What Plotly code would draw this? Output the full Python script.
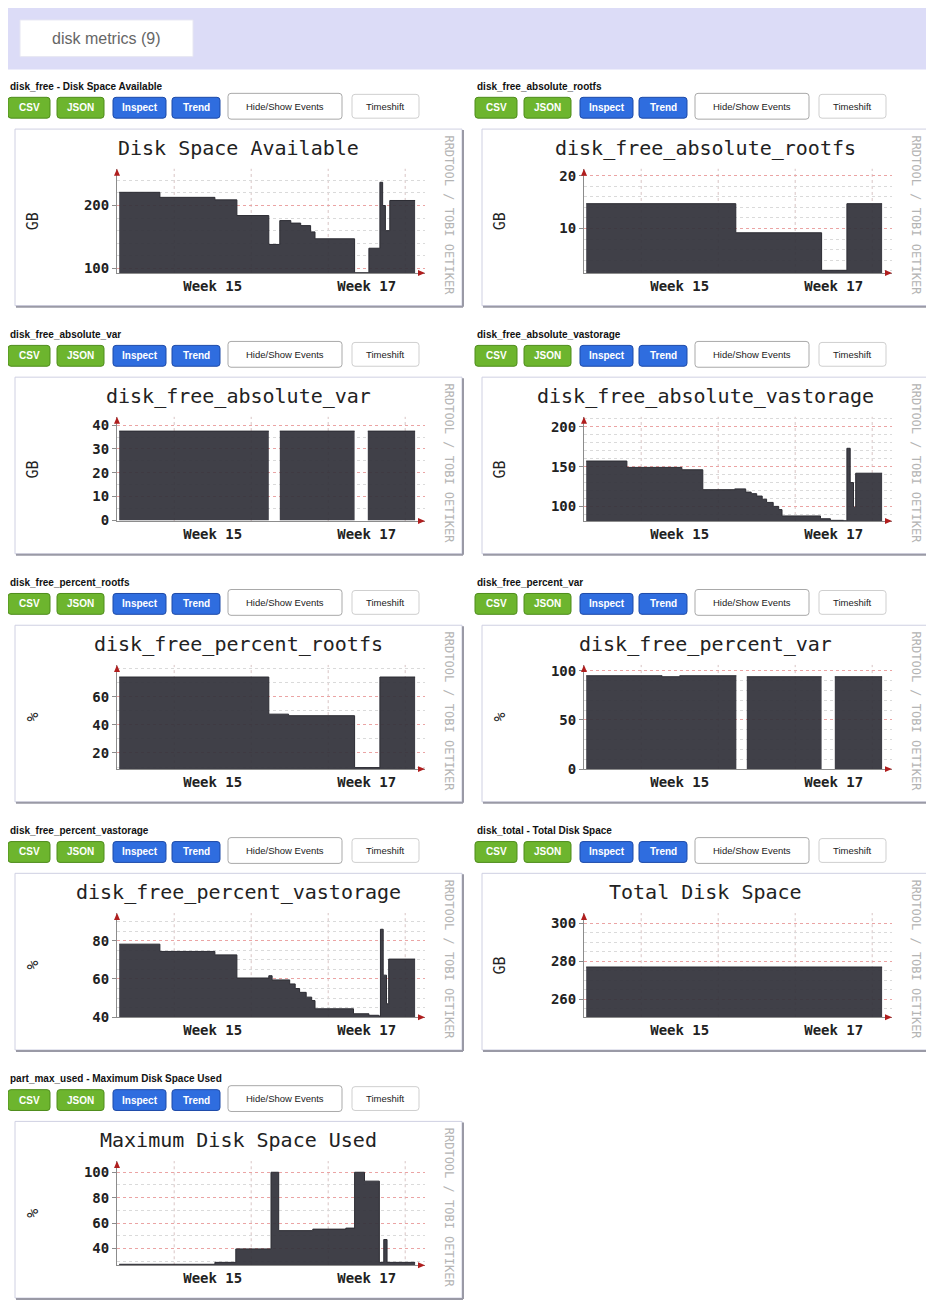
import plotly.graph_objects as go

# reference size; the page body adds an 8px margin, so the figure is drawn 8px smaller
W, H = 934, 1310
OFF = 8
FW, FH = W - OFF, H - OFF

# --- data: day offset inside the 4-week window, value at that step (None = no data) ---
free_days = [0, 3.7, 8.7, 10.7, 13.6, 14.6, 15.6, 16.5, 17.4, 17.8, 21.4, 22.7, 23.7, 23.95, 24.2, 24.6, 26.9]
free_gb = [221, 213, 209, 184, 138, 176, 172, 168, 158, 147, 93, 132, 237, 200, 160, 208, 208]

rootfs_days = [0, 13.6, 21.4, 23.7, 26.9]
rootfs_gb = [14.7, 9.2, 2.1, 14.7, 14.7]

var_days = [0, 13.6, 13.65, 14.6, 21.4, 21.45, 22.6, 26.9]
var_gb = [37.5, 37.5, None, 37.5, 37.5, None, 37.5, 37.5]

vast_days = [0, 3.7, 8.7, 10.6, 13.5, 14.5, 15.0, 15.5, 16.0, 16.4, 17.0, 17.5, 17.8,
             21.3, 22.2, 23.4, 23.7, 24.0, 24.3, 24.5, 26.9]
vast_gb = [157, 149, 146, 121, 122, 118, 116, 113, 109, 105, 100, 96, 88,
           84.5, 82.5, 82, 173, 130, 99, 141.7, 141.7]

pct_root_days = [0, 13.6, 15.4, 21.4, 23.7, 26.9]
pct_root = [74, 47.6, 46.5, 9.6, 74, 74]

pct_var_days = [0, 6.9, 8.5, 13.65, 13.7, 14.6, 21.4, 21.45, 22.6, 26.9]
pct_var = [95, 94, 95, 95, None, 94, 94, None, 94, 94]

pct_vast_days = [0, 3.7, 8.7, 10.7, 13.6, 13.9, 15.5, 16.0, 16.4, 17.0, 17.5, 17.8,
                 21.3, 22.7, 23.6, 23.75, 24.0, 24.3, 24.5, 26.9]
pct_vast = [78.2, 74.4, 72.6, 60.5, 61.7, 59.5, 57.4, 55, 53, 50.5, 48.7, 44.4,
            41.8, 41, 40.6, 86, 62, 47, 70.4, 70.4]

total_days = [0, 26.9]
total_gb = [277, 277]

max_used_days = [0, 8.7, 10.6, 13.8, 14.5, 17.6, 20.6, 21.4, 22.3, 23.65, 24.05, 24.35, 26.9]
max_used = [27.5, 29, 39.6, 100, 54, 55.2, 56, 100, 93, 29, 47, 29, 29]

series = [(free_days, free_gb), (rootfs_days, rootfs_gb), (var_days, var_gb),
          (vast_days, vast_gb), (pct_root_days, pct_root), (pct_var_days, pct_var),
          (pct_vast_days, pct_vast), (total_days, total_gb), (max_used_days, max_used)]

labels = ["disk_free - Disk Space Available", "disk_free_absolute_rootfs", "disk_free_absolute_var",
          "disk_free_absolute_vastorage", "disk_free_percent_rootfs", "disk_free_percent_var",
          "disk_free_percent_vastorage", "disk_total - Total Disk Space",
          "part_max_used - Maximum Disk Space Used"]
titles = ["Disk Space Available", "disk_free_absolute_rootfs", "disk_free_absolute_var",
          "disk_free_absolute_vastorage", "disk_free_percent_rootfs", "disk_free_percent_var",
          "disk_free_percent_vastorage", "Total Disk Space", "Maximum Disk Space Used"]
units = ["GB", "GB", "GB", "GB", "%", "%", "%", "GB", "%"]

y_ranges = [[92.6, 258.5], [1.6, 21.3], [-0.3, 43.5], [81.6, 212.5], [8.5, 82.6],
            [0, 106], [40, 94.5], [250.6, 305.4], [26.7, 108.8]]
y_ticks = [[100, 200], [10, 20], [0, 10, 20, 30, 40], [100, 150, 200], [20, 40, 60],
           [0, 50, 100], [40, 60, 80], [260, 280, 300], [40, 60, 80, 100]]
y_minor = [20, 2, 5, 10, 10, 10, 5, 5, 10]

week_labels = ["Week 15", "Week 17"]
week_label_days = [8.5, 22.5]
week_grid_days = [5, 12, 19, 26]

buttons = ["CSV", "JSON", "Inspect", "Trend", "Hide/Show Events", "Timeshift"]


def fx(x):
    return (x - OFF) / FW


def fy(y):
    return 1 - (y - OFF) / FH


def split_gaps(days, vals):
    """Split a series at None so every block of data gets its own filled area."""
    parts, cur = [], ([], [])
    for d, v in zip(days, vals):
        if v is None:
            if cur[0]:
                parts.append(cur)
            cur = ([], [])
        else:
            cur[0].append(d)
            cur[1].append(v)
    if cur[0]:
        parts.append(cur)
    return parts


def rounded_rect(x0, y0, x1, y1, r=3):
    """SVG path (paper coords) of a rounded box given in pixels."""
    return (f"M {fx(x0 + r)},{fy(y0)} L {fx(x1 - r)},{fy(y0)} Q {fx(x1)},{fy(y0)} {fx(x1)},{fy(y0 + r)} "
            f"L {fx(x1)},{fy(y1 - r)} Q {fx(x1)},{fy(y1)} {fx(x1 - r)},{fy(y1)} "
            f"L {fx(x0 + r)},{fy(y1)} Q {fx(x0)},{fy(y1)} {fx(x0)},{fy(y1 - r)} "
            f"L {fx(x0)},{fy(y0 + r)} Q {fx(x0)},{fy(y0)} {fx(x0 + r)},{fy(y0)} Z")


def paper_rect(x0, y0, x1, y1, **kw):
    return dict(type="rect", xref="paper", yref="paper",
                x0=fx(x0), x1=fx(x1), y0=fy(y1), y1=fy(y0), **kw)


def paper_line(x0, y0, x1, y1, color, width=1):
    return dict(type="line", xref="paper", yref="paper", x0=fx(x0), x1=fx(x1),
                y0=fy(y0), y1=fy(y1), line=dict(color=color, width=width))


def text(x, y, s, size, color="#222", family="Liberation Sans", xanchor="center", weight="normal", **kw):
    return dict(x=fx(x), y=fy(y), xref="paper", yref="paper", text=s, showarrow=False,
                xanchor=xanchor, yanchor="middle",
                font=dict(size=size, color=color, family=family, weight=weight), **kw)


# button geometry: (x0, x1, y0, y1, fill, border, text colour)
btn_style = [
    (8, 50, 96, 117, "#6db52e", "#4e8c1b", "white"),
    (57, 104, 96, 117, "#6db52e", "#4e8c1b", "white"),
    (113, 166, 96, 117, "#2f6ddf", "#1d4aa8", "white"),
    (172, 220, 96, 117, "#2f6ddf", "#1d4aa8", "white"),
    (228, 342, 92, 118, "#ffffff", "#a9a9a9", "#222"),
    (352, 419, 93, 117, "#ffffff", "#cfcfcf", "#222"),
]

fig = go.Figure()
shapes = []
annotations = []

# header band
shapes.append(paper_rect(5, 5, 929, 68, fillcolor="#dcdcf7", line=dict(width=0), layer="below"))
shapes.append(paper_rect(20, 18, 193, 55, fillcolor="white", line=dict(color="#e6e6f2", width=1), layer="below"))
annotations.append(text(106, 37, "disk metrics (9)", 16, color="#666"))

for i in range(9):
    col, row = i % 2, i // 2
    ox, oy = 467 * col, 250 * row
    k = "" if i == 0 else str(i + 1)

    # label + buttons
    annotations.append(text(ox + 8, oy + 85, labels[i], 10, color="#111", xanchor="left", weight="bold"))
    for name, (x0, x1, y0, y1, fill, border, tc) in zip(buttons, btn_style):
        shapes.append(dict(type="path", xref="paper", yref="paper",
                           path=rounded_rect(ox + x0, oy + y0, ox + x1, oy + y1),
                           fillcolor=fill, line=dict(color=border, width=1), layer="below"))
        annotations.append(text(ox + (x0 + x1) / 2, oy + (y0 + y1) / 2, name,
                                10 if tc == "white" else 9.5, color=tc,
                                weight="bold" if tc == "white" else "normal"))

    # graph frame with shadow
    shapes.append(paper_rect(ox + 15, oy + 128, ox + 462, oy + 306, fillcolor="white",
                             line=dict(color="#cfd0e2", width=1), layer="below"))
    shapes.append(paper_line(ox + 463, oy + 129, ox + 463, oy + 307, "#9a9aa6", 2))
    shapes.append(paper_line(ox + 16, oy + 307, ox + 463, oy + 307, "#9a9aa6", 2))

    # texts inside frame
    annotations.append(text(ox + 238, oy + 147, titles[i], 20, family="DejaVu Sans Mono"))
    annotations.append(text(ox + 33, oy + 221, units[i], 15, family="DejaVu Sans Mono", textangle=-90))
    annotations.append(text(ox + 449, oy + 215, "RRDTOOL / TOBI OETIKER", 12, color="#b4b4b4",
                            family="DejaVu Sans Mono", textangle=90))

    # axis arrow heads
    ax_x, ax_y, top_y, right_x = ox + 117, oy + 273, oy + 168, ox + 425
    shapes.append(dict(type="path", xref="paper", yref="paper", fillcolor="#b01e1e", line=dict(width=0),
                       path=f"M {fx(right_x)},{fy(ax_y)} L {fx(right_x - 7)},{fy(ax_y - 3)} "
                            f"L {fx(right_x - 7)},{fy(ax_y + 3)} Z"))
    shapes.append(dict(type="path", xref="paper", yref="paper", fillcolor="#b01e1e", line=dict(width=0),
                       path=f"M {fx(ax_x)},{fy(top_y)} L {fx(ax_x - 3)},{fy(top_y + 7)} "
                            f"L {fx(ax_x + 3)},{fy(top_y + 7)} Z"))

    # weekly vertical grid
    for d in week_grid_days:
        shapes.append(dict(type="line", xref="x" + k, yref=f"y{k} domain", x0=d, x1=d, y0=0, y1=1,
                           line=dict(color="#d8c4c4", width=1, dash="dot"), layer="below"))

    days, vals = series[i]
    for seg_days, seg_vals in split_gaps(days, vals):
        fig.add_trace(go.Scatter(
            x=seg_days, y=seg_vals, mode="lines", line_shape="hv", fill="tozeroy",
            fillcolor="rgba(50,50,58,0.93)", line=dict(color="#2c2c33", width=1),
            xaxis="x" + k, yaxis="y" + k, showlegend=False, hoverinfo="skip",
        ))

    fig.update_layout(**{
        f"xaxis{k}": dict(
            domain=[fx(ax_x), fx(right_x)], anchor="y" + k, range=[-0.2, 27.8],
            tickmode="array", tickvals=week_label_days, ticktext=week_labels,
            showgrid=False, zeroline=False, showline=True, linecolor="#8c8c8c", ticks="",
            tickfont=dict(family="DejaVu Sans Mono", size=14, color="#222", weight="bold"),
            fixedrange=True,
        ),
        f"yaxis{k}": dict(
            domain=[fy(ax_y), fy(top_y)], anchor="x" + k, range=y_ranges[i],
            tickmode="array", tickvals=y_ticks[i], zeroline=False,
            showgrid=True, gridcolor="#eba4a4", griddash="dot", gridwidth=1,
            showline=True, linecolor="#8c8c8c", ticks="outside", ticklen=4, tickcolor="#8c8c8c",
            tickfont=dict(family="DejaVu Sans Mono", size=14, color="#222", weight="bold"),
            minor=dict(dtick=y_minor[i], tick0=0, showgrid=True, gridcolor="#dadada",
                       griddash="dot", gridwidth=1),
            fixedrange=True,
        ),
    })

fig.update_layout(
    width=FW, height=FH, margin=dict(l=0, r=0, t=0, b=0),
    paper_bgcolor="white", plot_bgcolor="rgba(0,0,0,0)",
    shapes=shapes, annotations=annotations, hovermode=False,
)

fig.write_html("out.html")
